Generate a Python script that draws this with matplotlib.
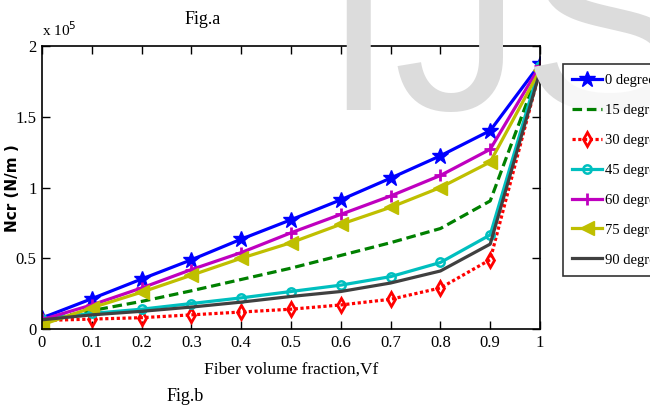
import matplotlib
matplotlib.use("Agg")
import matplotlib.pyplot as plt
import numpy as np

vf = [0, 0.1, 0.2, 0.3, 0.4, 0.5, 0.6, 0.7, 0.8, 0.9, 1.0]
labels = ["0 degree", "15 degree", "30 degree", "45 degree", "60 degree", "75 degree", "90 degree"]
ncr_0 = [0.078, 0.214, 0.353, 0.489, 0.635, 0.772, 0.913, 1.066, 1.224, 1.402, 1.873]
ncr_15 = [0.06, 0.13, 0.195, 0.27, 0.35, 0.43, 0.52, 0.61, 0.71, 0.905, 1.85]
ncr_30 = [0.06, 0.07, 0.08, 0.10, 0.12, 0.14, 0.17, 0.21, 0.29, 0.49, 1.83]
ncr_45 = [0.07, 0.11, 0.14, 0.18, 0.22, 0.265, 0.31, 0.37, 0.47, 0.665, 1.86]
ncr_60 = [0.066, 0.17, 0.29, 0.42, 0.54, 0.68, 0.81, 0.94, 1.085, 1.27, 1.86]
ncr_75 = [0.03, 0.15, 0.26, 0.38, 0.50, 0.61, 0.74, 0.86, 1.00, 1.18, 1.83]
ncr_90 = [0.065, 0.10, 0.125, 0.155, 0.19, 0.23, 0.265, 0.325, 0.41, 0.60, 1.82]
xtick_labels = ["0", "0.1", "0.2", "0.3", "0.4", "0.5", "0.6", "0.7", "0.8", "0.9", "1"]
yticks = [0, 0.5, 1, 1.5, 2]
ytick_labels = ["0", "0.5", "1", "1.5", "2"]

plt.rcParams['font.family'] = ["Liberation Serif", "DejaVu Serif"]

fig = plt.figure(figsize=(6.5, 4.07), dpi=100)
W, H = 650, 407

# watermark
fig.text(322 / W, 1 - 110 / H, "IJS", fontsize=185, color="#dcdcdc",
         family="Liberation Sans", ha="left", va="baseline", zorder=0)

ax = fig.add_axes([42 / W, 1 - 329 / H, (540 - 42) / W, (329 - 46) / H])
ax.patch.set_alpha(0)

lw = 2.3
ax.plot(vf, ncr_0, color="#0000ff", lw=lw, marker="*", ms=12, label=labels[0])
ax.plot(vf, ncr_15, color="#008000", lw=lw, ls=(0, (3, 1.5)), label=labels[1])
ax.plot(vf, ncr_30, color="#ff0000", lw=lw, ls=(0, (1, 0.8)), marker="d", ms=7,
        mfc="none", mew=2, label=labels[2])
ax.plot(vf, ncr_45, color="#00bfbf", lw=lw, marker="o", ms=6, mfc="none", mew=1.8, label=labels[3])
ax.plot(vf, ncr_60, color="#bf00bf", lw=lw, marker="+", ms=9, mew=2, label=labels[4])
ax.plot(vf, ncr_75, color="#bfbf00", lw=lw, marker="<", ms=10, label=labels[5])
ax.plot(vf, ncr_90, color="#404040", lw=lw, label=labels[6])

ax.set_xlim(0, 1)
ax.set_ylim(0, 2)
ax.set_xticks(vf)
ax.set_xticklabels(xtick_labels)
ax.set_yticks(yticks)
ax.set_yticklabels(ytick_labels)
ax.tick_params(direction="in", top=True, right=True, length=6, width=1, labelsize=12, pad=4)
for s in ax.spines.values():
    s.set_linewidth(1.2)

ax.set_xlabel("Fiber volume fraction,Vf", fontsize=12.5, labelpad=8)
ax.set_ylabel("Ncr (N/m )", fontsize=11, fontweight="bold", family="DejaVu Sans")
ax.yaxis.set_label_coords((20 - 42) / 498, (329 - 188) / 283)

fig.text(42 / W, 1 - 36 / H, "x 10$^5$", fontsize=11, ha="left", va="baseline")
fig.text(203 / W, 1 - 24 / H, "Fig.a", fontsize=13, ha="center", va="baseline")
fig.text(185 / W, 1 - 401 / H, "Fig.b", fontsize=13, ha="center", va="baseline")

leg = fig.legend(loc="upper left", bbox_to_anchor=(563 / W, 1 - 64 / H), fontsize=10.5,
                 frameon=True, fancybox=False, edgecolor="black", handlelength=2.0,
                 handletextpad=0.2, labelspacing=1.15, borderpad=0.65, borderaxespad=0)
leg.get_frame().set_linewidth(1.2)

fig.savefig("out.png", dpi=100)
